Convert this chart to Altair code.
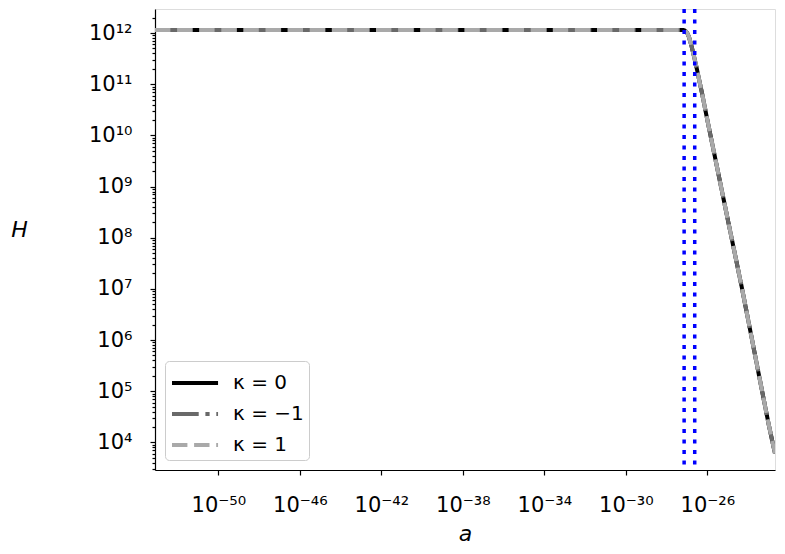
import altair as alt
import pandas as pd

# ---- data (log10 values) ----
log_a = [-53.11, -45.0, -35.0, -30.0, -27.6, -27.2, -27.1, -27.0, -26.9, -26.8,
         -26.7, -26.6, -26.5, -26.4, -26.27, -26.0, -25.5, -25.0, -24.31,
         -24.0, -23.5, -23.0, -22.68]
log_H = [12.06, 12.06, 12.06, 12.06, 12.06, 12.06, 12.05, 12.01, 11.92, 11.78,
         11.62, 11.45, 11.27, 11.08, 10.84, 10.30, 9.33, 8.36, 7.03,
         6.40, 5.38, 4.37, 3.78]

series_names = ["κ = 0", "κ = −1", "κ = 1"]
series_colors = ["#000000", "#696969", "#a9a9a9"]
series_dashes = [[1, 0], [26.7, 6.7, 4.2, 6.7], [15.4, 6.7]]

vline_log_a = [-27.14, -26.62]

x_tick_exps = [-50, -46, -42, -38, -34, -30, -26]
x_tick_labels = ["10⁻⁵⁰", "10⁻⁴⁶", "10⁻⁴²", "10⁻³⁸", "10⁻³⁴", "10⁻³⁰", "10⁻²⁶"]
y_tick_exps = [4, 5, 6, 7, 8, 9, 10, 11, 12]
y_tick_labels = ["10⁴", "10⁵", "10⁶", "10⁷", "10⁸", "10⁹", "10¹⁰", "10¹¹", "10¹²"]

x_domain_log = [-53.11, -22.68]
y_domain_log = [3.46, 12.47]

# ---- build tables ----
rows = []
for s in series_names:
    for la, lh in zip(log_a, log_H):
        rows.append({"series": s, "a": 10 ** la, "H": 10 ** lh})
df = pd.DataFrame(rows)
vdf = pd.DataFrame({"a": [10 ** v for v in vline_log_a]})


def label_expr(exps, labels):
    parts = [f"(abs(log(datum.value)/LN10 - ({e})) < 0.01) ? '{l}'" for e, l in zip(exps, labels)]
    return " : ".join(parts) + " : ''"


y_minor = []
for e in range(3, 13):
    for k in range(1, 10):
        v = k * 10 ** e
        if 10 ** y_domain_log[0] <= v <= 10 ** y_domain_log[1]:
            y_minor.append(v)

font = "DejaVu Sans"
xscale = alt.Scale(type="log", domain=[10 ** d for d in x_domain_log], nice=False)
yscale = alt.Scale(type="log", domain=[10 ** d for d in y_domain_log], nice=False)

xaxis = alt.Axis(values=[10 ** e for e in x_tick_exps], labelExpr=label_expr(x_tick_exps, x_tick_labels),
                 title="a", titleFontStyle="italic", titleFontWeight="normal", titleFontSize=22,
                 titleFont=font, titleX=310, titleY=70, titleBaseline="alphabetic", titleAlign="center",
                 labelFontSize=21, labelFont=font, labelColor="black", labelPadding=19,
                 labelOverlap=False, tickSize=5, tickWidth=1.2, tickColor="black",
                 domainColor="black", domainWidth=1.2, grid=False)
yaxis = alt.Axis(values=y_minor, labelExpr=label_expr(y_tick_exps, y_tick_labels),
                 title="H", titleFontStyle="italic", titleFontWeight="normal", titleFontSize=22,
                 titleFont=font, titleAngle=0, titleX=-136, titleY=227, titleBaseline="alphabetic",
                 titleAlign="center",
                 labelFontSize=21, labelFont=font, labelColor="black", labelPadding=18,
                 labelOverlap=False, labelBound=False, labelFlush=False,
                 tickSize={"condition": {"test": "abs(log(datum.value)/LN10 - round(log(datum.value)/LN10)) < 0.01", "value": 5}, "value": 3},
                 tickWidth=1.2, tickColor="black",
                 domainColor="black", domainWidth=1.2, grid=False)

color = alt.Color("series:N", scale=alt.Scale(domain=series_names, range=series_colors),
                  legend=alt.Legend(title=None, orient="bottom-left", offset=10,
                                    symbolType="M-1,0H2.07", symbolStrokeWidth=4, symbolSize=900,
                                    symbolFillColor="transparent",
                                    labelFontSize=20, labelFont=font, labelColor="black",
                                    fillColor="white", strokeColor="#cccccc", cornerRadius=4,
                                    padding=5, rowPadding=4, labelOffset=29))
dash = alt.StrokeDash("series:N", scale=alt.Scale(domain=series_names, range=series_dashes), legend=None)

layers = []
for s in series_names:
    layers.append(
        alt.Chart(df).transform_filter(alt.datum.series == s).mark_line(strokeWidth=4, clip=True).encode(
            x=alt.X("a:Q", scale=xscale, axis=xaxis),
            y=alt.Y("H:Q", scale=yscale, axis=yaxis),
            color=color,
            strokeDash=dash,
        )
    )

vlines = alt.Chart(vdf).mark_rule(color="blue", strokeWidth=3.5, strokeDash=[4, 6.5]).encode(
    x=alt.X("a:Q", scale=xscale)
)

chart = alt.layer(*layers, vlines).properties(
    width=620, height=461,
    autosize=alt.AutoSizeParams(type="none"),
    padding={"left": 147, "top": 1, "right": 2, "bottom": 76},
).configure_view(stroke="black", strokeWidth=1.2).configure(background="white")

chart.save("out.html", embed_options={"renderer": "svg", "actions": False})
